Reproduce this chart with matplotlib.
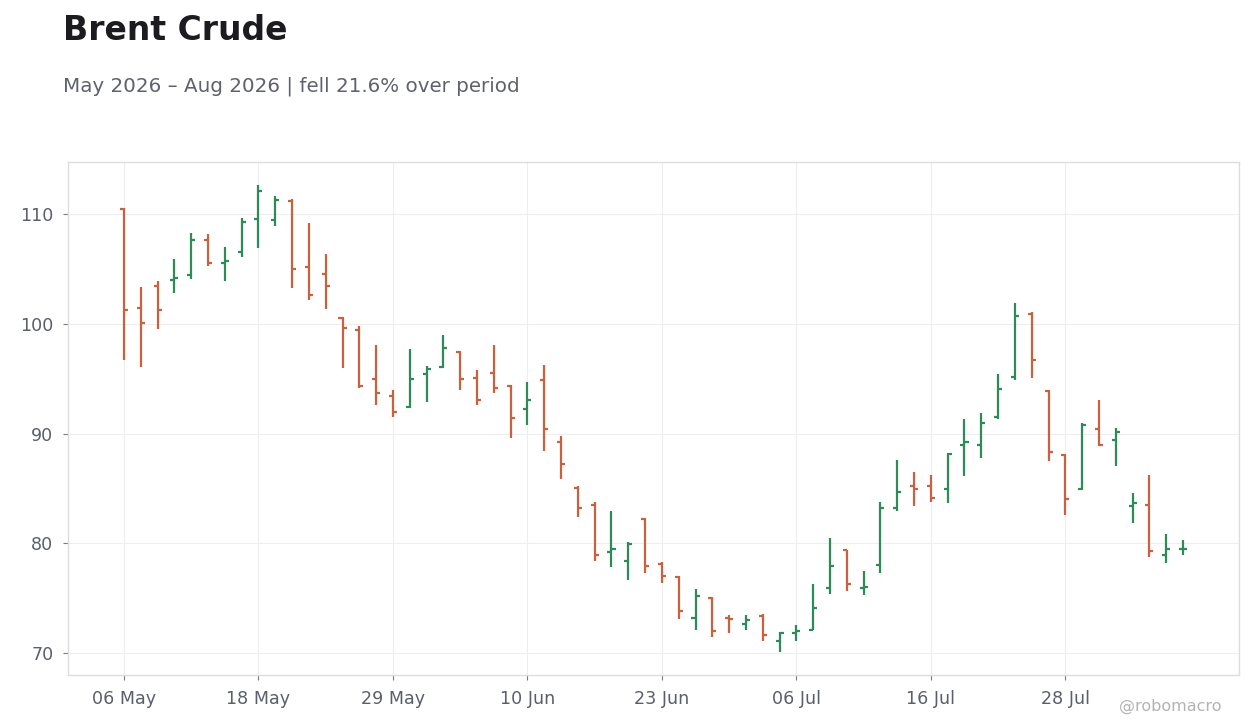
import matplotlib
matplotlib.use("Agg")
import matplotlib.pyplot as plt
import datetime as _dt

dates = [
    "2026-05-06", "2026-05-07", "2026-05-08", "2026-05-11", "2026-05-12", "2026-05-13", "2026-05-14", "2026-05-15",
    "2026-05-18", "2026-05-19", "2026-05-20", "2026-05-21", "2026-05-22", "2026-05-26", "2026-05-27", "2026-05-28",
    "2026-05-29", "2026-06-01", "2026-06-02", "2026-06-03", "2026-06-04", "2026-06-05", "2026-06-08", "2026-06-09",
    "2026-06-10", "2026-06-11", "2026-06-12", "2026-06-15", "2026-06-16", "2026-06-17", "2026-06-18", "2026-06-22",
    "2026-06-23", "2026-06-24", "2026-06-25", "2026-06-26", "2026-06-29", "2026-06-30", "2026-07-01", "2026-07-02",
    "2026-07-06", "2026-07-07", "2026-07-08", "2026-07-09", "2026-07-10", "2026-07-13", "2026-07-14", "2026-07-15",
    "2026-07-16", "2026-07-17", "2026-07-20", "2026-07-21", "2026-07-22", "2026-07-23", "2026-07-24", "2026-07-27",
    "2026-07-28", "2026-07-29", "2026-07-30", "2026-07-31", "2026-08-03", "2026-08-04", "2026-08-05", "2026-08-06",
]

opens = [110.5, 101.5, 103.5, 104.0, 104.5, 107.7, 105.6, 106.55, 109.6, 109.5,
         111.2, 105.2, 104.55, 100.55, 99.45, 94.95, 93.4, 92.4, 95.4, 96.05,
         97.4, 95.05, 95.5, 94.3, 92.2, 94.9, 89.2, 85.0, 83.5, 79.15,
         78.35, 82.2, 78.1, 76.95, 73.15, 75.0, 73.15, 72.65, 73.4, 71.1,
         71.85, 72.1, 75.95, 79.35, 75.95, 78.05, 83.25, 85.2, 85.2, 84.9,
         89.0, 88.95, 91.5, 95.2, 100.9, 93.85, 88.0, 84.9, 90.45, 89.4,
         83.35, 83.5, 78.9, 79.45]
highs = [110.6, 103.4, 103.9, 105.95, 108.3, 108.2, 107.05, 109.7, 112.65, 111.7,
         111.4, 109.2, 106.35, 100.65, 99.85, 98.1, 94.0, 97.7, 96.2, 98.95,
         97.55, 95.8, 98.05, 94.45, 94.75, 96.3, 89.8, 85.25, 83.75, 82.95,
         80.1, 82.3, 78.3, 77.05, 75.8, 75.1, 73.45, 73.45, 73.5, 71.9,
         72.5, 76.3, 80.5, 79.4, 77.45, 83.8, 87.55, 86.5, 86.25, 88.25,
         91.35, 91.85, 95.45, 101.9, 101.1, 93.95, 88.1, 91.0, 93.05, 90.55,
         84.6, 86.25, 80.85, 80.3]
lows = [96.7, 96.1, 99.5, 102.8, 104.1, 105.3, 103.9, 106.1, 106.9, 108.9,
        103.25, 102.2, 101.35, 95.95, 94.15, 92.6, 91.5, 92.35, 92.85, 96.0,
        93.95, 92.65, 93.7, 89.6, 90.75, 88.4, 85.85, 82.4, 78.4, 77.8,
        76.6, 77.3, 76.4, 73.05, 72.05, 71.4, 71.85, 72.1, 71.05, 70.1,
        71.05, 72.05, 75.4, 75.6, 75.3, 77.25, 82.95, 83.35, 83.8, 83.7,
        86.1, 87.8, 91.35, 94.9, 95.1, 87.5, 82.55, 84.85, 88.85, 87.0,
        81.8, 78.7, 78.15, 78.95]
closes = [101.3, 100.05, 101.3, 104.15, 107.7, 105.6, 105.75, 109.3, 112.1, 111.3,
          105.0, 102.6, 103.5, 99.6, 94.3, 93.7, 92.0, 94.95, 95.9, 97.8,
          95.0, 93.1, 94.2, 91.45, 93.1, 90.4, 87.25, 83.2, 78.95, 79.5,
          79.95, 77.9, 77.05, 73.8, 75.2, 71.95, 73.1, 72.95, 71.6, 71.8,
          71.95, 74.1, 77.95, 76.3, 76.0, 83.25, 84.7, 84.9, 84.15, 88.1,
          89.2, 91.0, 94.05, 100.7, 96.75, 88.35, 84.05, 90.8, 88.95, 90.15,
          83.7, 79.3, 79.45, 79.5]

title = "Brent Crude"
subtitle = "May 2026 \u2013 Aug 2026 | fell 21.6% over period"
credit = "@robomacro"

UP = "#2e8b57"
DOWN = "#c8613f"
TXT = "#5b5f6b"

fig = plt.figure(figsize=(12.6, 7.28), dpi=100)
fig.patch.set_facecolor("white")
ax = fig.add_axes([68 / 1260, 1 - 675 / 728, (1239 - 68) / 1260, (675 - 162) / 728])

n = len(opens)
xs = list(range(n))
cols = [UP if c >= o else DOWN for o, c in zip(opens, closes)]
tw = 0.24
ax.vlines(xs, lows, highs, colors=cols, linewidth=1.6, zorder=3)
ax.hlines(opens, [x - tw for x in xs], xs, colors=cols, linewidth=1.6, zorder=3)
ax.hlines(closes, xs, [x + tw for x in xs], colors=cols, linewidth=1.6, zorder=3)

lo, hi = min(lows), max(highs)
pad = (hi - lo) * 0.05
ax.set_ylim(lo - pad, hi + pad)
ax.set_xlim(-3.33, n - 1 + 3.33)

ax.set_yticks([70, 80, 90, 100, 110])
tick_idx = list(range(0, n, 8))
labels = [_dt.date.fromisoformat(dates[i]).strftime("%d %b") for i in tick_idx]
ax.set_xticks(tick_idx)
ax.set_xticklabels(labels)

ax.grid(True, color="#eeeeee", linewidth=0.8, zorder=0)
ax.set_axisbelow(True)
for s in ax.spines.values():
    s.set_color("#dddddd")
    s.set_linewidth(1.0)
ax.tick_params(axis="both", colors="#777b85", labelcolor=TXT, labelsize=12.6, length=3.5, width=0.8, pad=7)

fig.text(63 / 1260, 1 - 40 / 728, title, fontsize=23.8, fontweight="bold", color="#1b1b20", va="baseline", ha="left")
fig.text(63 / 1260, 1 - 92 / 728, subtitle, fontsize=14.35, color="#5f626d", va="baseline", ha="left")
fig.text(1222 / 1260, 1 - 711 / 728, credit, fontsize=11.5, color="#b3b3b3", va="baseline", ha="right")

fig.savefig("out.png", dpi=100, facecolor="white")
